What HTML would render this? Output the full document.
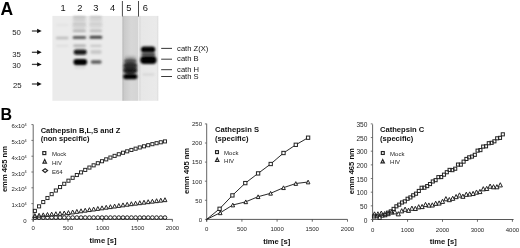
<!DOCTYPE html>
<html><head><meta charset="utf-8"><style>
html,body{margin:0;padding:0;background:#fff;}
body{width:520px;height:248px;overflow:hidden;}
svg{display:block;font-family:"Liberation Sans", sans-serif;}
</style></head><body>
<svg width="520" height="248" viewBox="0 0 520 248">
<defs>
<linearGradient id="g5" x1="0" y1="0" x2="1" y2="0">
<stop offset="0" stop-color="#b6b6b6"/><stop offset="0.12" stop-color="#cacaca"/><stop offset="0.55" stop-color="#d7d7d7"/><stop offset="1" stop-color="#d4d4d4"/>
</linearGradient>
<linearGradient id="g6" x1="0" y1="0" x2="1" y2="0">
<stop offset="0" stop-color="#d6d6d6"/><stop offset="0.12" stop-color="#e7e7e7"/><stop offset="0.9" stop-color="#eaeaea"/><stop offset="1" stop-color="#dcdcdc"/>
</linearGradient>
<filter id="b6" filterUnits="userSpaceOnUse" x="0" y="0" width="520" height="248"><feGaussianBlur stdDeviation="0.6"/></filter>
<filter id="b7" filterUnits="userSpaceOnUse" x="0" y="0" width="520" height="248"><feGaussianBlur stdDeviation="0.7"/></filter>
<filter id="b8" filterUnits="userSpaceOnUse" x="0" y="0" width="520" height="248"><feGaussianBlur stdDeviation="0.8"/></filter>
<filter id="b9" filterUnits="userSpaceOnUse" x="0" y="0" width="520" height="248"><feGaussianBlur stdDeviation="0.9"/></filter>
<filter id="b10" filterUnits="userSpaceOnUse" x="0" y="0" width="520" height="248"><feGaussianBlur stdDeviation="1.0"/></filter>
<filter id="b11" filterUnits="userSpaceOnUse" x="0" y="0" width="520" height="248"><feGaussianBlur stdDeviation="1.1"/></filter>
<filter id="b13" filterUnits="userSpaceOnUse" x="0" y="0" width="520" height="248"><feGaussianBlur stdDeviation="1.3"/></filter>
<filter id="b14" filterUnits="userSpaceOnUse" x="0" y="0" width="520" height="248"><feGaussianBlur stdDeviation="1.4"/></filter>
<filter id="b15" filterUnits="userSpaceOnUse" x="0" y="0" width="520" height="248"><feGaussianBlur stdDeviation="1.5"/></filter>
<filter id="b16" filterUnits="userSpaceOnUse" x="0" y="0" width="520" height="248"><feGaussianBlur stdDeviation="1.6"/></filter>
<filter id="b12" filterUnits="userSpaceOnUse" x="0" y="0" width="520" height="248"><feGaussianBlur stdDeviation="1.2"/></filter>
<filter id="b20" filterUnits="userSpaceOnUse" x="0" y="0" width="520" height="248"><feGaussianBlur stdDeviation="2.0"/></filter>
<filter id="gb" filterUnits="userSpaceOnUse" x="0" y="0" width="520" height="248"><feGaussianBlur stdDeviation="0.35"/></filter>
</defs>
<rect width="520" height="248" fill="#fff"/>
<g filter="url(#gb)">
<text x="0.5" y="14.6" font-size="17.5" font-weight="bold">A</text>
<text x="63.2" y="11.1" font-size="9.3" text-anchor="middle" fill="#111">1</text>
<text x="79.8" y="11.1" font-size="9.3" text-anchor="middle" fill="#111">2</text>
<text x="95.9" y="11.1" font-size="9.3" text-anchor="middle" fill="#111">3</text>
<text x="112.5" y="11.1" font-size="9.3" text-anchor="middle" fill="#111">4</text>
<text x="128.8" y="11.1" font-size="9.3" text-anchor="middle" fill="#111">5</text>
<text x="145.3" y="11.1" font-size="9.3" text-anchor="middle" fill="#111">6</text>
<line x1="122.4" y1="1" x2="122.4" y2="17" stroke="#333" stroke-width="0.9"/>
<line x1="138.5" y1="1" x2="138.5" y2="17" stroke="#333" stroke-width="0.9"/>
<text x="20.9" y="35.4" font-size="7.8" text-anchor="end" fill="#1a1a1a">50</text>
<text x="20.9" y="56.699999999999996" font-size="7.8" text-anchor="end" fill="#1a1a1a">35</text>
<text x="20.9" y="67.8" font-size="7.8" text-anchor="end" fill="#1a1a1a">30</text>
<text x="21.7" y="87.6" font-size="7.8" text-anchor="end" fill="#1a1a1a">25</text>
<line x1="31.9" y1="31" x2="38" y2="31" stroke="#444" stroke-width="1.3"/>
<path d="M37.1 28.8 L41.7 31 L37.1 33.2 Z" fill="#111"/>
<line x1="31.9" y1="52.3" x2="38" y2="52.3" stroke="#444" stroke-width="1.3"/>
<path d="M37.1 50.099999999999994 L41.7 52.3 L37.1 54.5 Z" fill="#111"/>
<line x1="31.9" y1="64.4" x2="38" y2="64.4" stroke="#444" stroke-width="1.3"/>
<path d="M37.1 62.2 L41.7 64.4 L37.1 66.60000000000001 Z" fill="#111"/>
<line x1="31.9" y1="84" x2="38" y2="84" stroke="#444" stroke-width="1.3"/>
<path d="M37.1 81.8 L41.7 84 L37.1 86.2 Z" fill="#111"/>
<rect x="52.4" y="15.9" width="69.6" height="84.9" fill="#ebebeb"/>
<rect x="122.3" y="15.9" width="16.2" height="84.9" fill="url(#g5)"/>
<rect x="139.2" y="15.9" width="19.1" height="84.9" fill="url(#g6)"/>
<rect x="55.8" y="36.8" width="12.8" height="2.4" rx="1.2" fill="#bcbcbc" filter="url(#b9)"/>
<rect x="56.0" y="45.0" width="12.5" height="1.6" rx="0.8" fill="#dadada" filter="url(#b10)"/>
<rect x="56.0" y="24.3" width="12.5" height="1.4" rx="0.7" fill="#e0e0e0" filter="url(#b10)"/>
<rect x="72.7" y="17.0" width="13.4" height="15.0" rx="6.7" fill="#dedede" filter="url(#b16)"/>
<rect x="72.8" y="16.2" width="13.0" height="2.0" rx="1.0" fill="#b8b8b8" filter="url(#b8)"/>
<rect x="72.8" y="19.2" width="13.0" height="1.6" rx="0.8" fill="#c4c4c4" filter="url(#b8)"/>
<rect x="72.8" y="23.1" width="13.0" height="1.6" rx="0.8" fill="#c0c0c0" filter="url(#b8)"/>
<rect x="72.8" y="25.1" width="13.0" height="1.4" rx="0.7" fill="#c8c8c8" filter="url(#b8)"/>
<rect x="72.8" y="27.4" width="13.0" height="1.2" rx="0.6" fill="#d0d0d0" filter="url(#b8)"/>
<rect x="72.7" y="29.7" width="13.2" height="2.4" rx="1.2" fill="#b0b0b0" filter="url(#b9)"/>
<rect x="72.6" y="36.1" width="13.6" height="3.0" rx="1.5" fill="#5c5c5c" filter="url(#b9)"/>
<rect x="73.2" y="44.6" width="12.8" height="2.4" rx="1.2" fill="#b0b0b0" filter="url(#b10)"/>
<rect x="73.7" y="49.5" width="13.0" height="5.2" rx="2.6" fill="#121212" filter="url(#b10)"/>
<rect x="73.4" y="59.0" width="13.8" height="6.2" rx="3.1" fill="#000000" filter="url(#b10)"/>
<rect x="74.5" y="66.8" width="11.0" height="1.5" rx="0.8" fill="#d0d0d0" filter="url(#b10)"/>
<rect x="89.4" y="17.0" width="12.8" height="15.0" rx="6.4" fill="#e0e0e0" filter="url(#b16)"/>
<rect x="89.6" y="16.2" width="12.4" height="2.0" rx="1.0" fill="#c0c0c0" filter="url(#b8)"/>
<rect x="89.6" y="19.2" width="12.4" height="1.6" rx="0.8" fill="#cacaca" filter="url(#b8)"/>
<rect x="89.6" y="23.1" width="12.4" height="1.6" rx="0.8" fill="#c8c8c8" filter="url(#b8)"/>
<rect x="89.6" y="25.1" width="12.4" height="1.4" rx="0.7" fill="#d0d0d0" filter="url(#b8)"/>
<rect x="89.6" y="29.7" width="12.4" height="2.4" rx="1.2" fill="#bababa" filter="url(#b9)"/>
<rect x="89.5" y="35.7" width="12.8" height="3.0" rx="1.5" fill="#404040" filter="url(#b9)"/>
<rect x="90.2" y="44.7" width="11.5" height="2.2" rx="1.1" fill="#c6c6c6" filter="url(#b10)"/>
<rect x="90.3" y="50.1" width="11.5" height="4.0" rx="2.0" fill="#c8c8c8" filter="url(#b12)"/>
<rect x="90.7" y="60.3" width="11.0" height="3.4" rx="1.7" fill="#5c5c5c" filter="url(#b9)"/>
<rect x="124.6" y="56.6" width="11.5" height="3.6" rx="1.8" fill="#a0a0a0" filter="url(#b16)"/>
<rect x="123.9" y="59.8" width="12.8" height="15.6" rx="6.4" fill="#363636" filter="url(#b14)"/>
<rect x="124.1" y="59.5" width="12.4" height="3.0" rx="1.5" fill="#4a4a4a" filter="url(#b12)"/>
<rect x="124.0" y="63.9" width="12.6" height="3.0" rx="1.5" fill="#2a2a2a" filter="url(#b12)"/>
<rect x="123.8" y="68.4" width="13.0" height="4.0" rx="2.0" fill="#121212" filter="url(#b12)"/>
<rect x="123.2" y="74.0" width="14.2" height="5.2" rx="2.6" fill="#000000" filter="url(#b11)"/>
<rect x="141.3" y="52.6" width="14.0" height="4.0" rx="2.0" fill="#505050" filter="url(#b10)"/>
<rect x="140.9" y="46.4" width="14.4" height="6.2" rx="3.1" fill="#000000" filter="url(#b10)"/>
<rect x="140.2" y="56.1" width="16.4" height="7.8" rx="3.9" fill="#000000" filter="url(#b10)"/>
<rect x="142.4" y="73.8" width="12.0" height="1.5" rx="0.8" fill="#cecece" filter="url(#b9)"/>
<line x1="161.2" y1="48.4" x2="172.0" y2="48.4" stroke="#222" stroke-width="0.9"/>
<text x="177.1" y="50.7" font-size="7.6" fill="#151515">cath Z(X)</text>
<line x1="161.2" y1="59.2" x2="172.0" y2="59.2" stroke="#222" stroke-width="0.9"/>
<text x="177.1" y="61.0" font-size="7.6" fill="#151515">cath B</text>
<line x1="161.2" y1="69.7" x2="172.0" y2="69.7" stroke="#222" stroke-width="0.9"/>
<text x="177.1" y="71.8" font-size="7.6" fill="#151515">cath H</text>
<line x1="161.2" y1="76.5" x2="172.0" y2="76.5" stroke="#222" stroke-width="0.9"/>
<text x="177.1" y="79.0" font-size="7.6" fill="#151515">cath S</text>
<text x="0.6" y="119.8" font-size="16" font-weight="bold">B</text>
<line x1="33.2" y1="124.6" x2="33.2" y2="221.6" stroke="#555" stroke-width="0.9"/>
<line x1="33.2" y1="219.4" x2="172.6" y2="219.4" stroke="#444" stroke-width="0.9"/>
<line x1="31.400000000000002" y1="219.40" x2="33.2" y2="219.40" stroke="#555" stroke-width="0.8"/>
<text x="26.7" y="222.90" font-size="6.0" fill="#262626" text-anchor="end">0</text>
<line x1="31.400000000000002" y1="203.60" x2="33.2" y2="203.60" stroke="#555" stroke-width="0.8"/>
<text x="26.7" y="207.10" font-size="6.0" fill="#262626" text-anchor="end">1x10<tspan dy="-2.2" font-size="3.8">4</tspan></text>
<line x1="31.400000000000002" y1="187.80" x2="33.2" y2="187.80" stroke="#555" stroke-width="0.8"/>
<text x="26.7" y="191.30" font-size="6.0" fill="#262626" text-anchor="end">2x10<tspan dy="-2.2" font-size="3.8">4</tspan></text>
<line x1="31.400000000000002" y1="172.00" x2="33.2" y2="172.00" stroke="#555" stroke-width="0.8"/>
<text x="26.7" y="175.50" font-size="6.0" fill="#262626" text-anchor="end">3x10<tspan dy="-2.2" font-size="3.8">4</tspan></text>
<line x1="31.400000000000002" y1="156.20" x2="33.2" y2="156.20" stroke="#555" stroke-width="0.8"/>
<text x="26.7" y="159.70" font-size="6.0" fill="#262626" text-anchor="end">4x10<tspan dy="-2.2" font-size="3.8">4</tspan></text>
<line x1="31.400000000000002" y1="140.40" x2="33.2" y2="140.40" stroke="#555" stroke-width="0.8"/>
<text x="26.7" y="143.90" font-size="6.0" fill="#262626" text-anchor="end">5x10<tspan dy="-2.2" font-size="3.8">4</tspan></text>
<line x1="31.400000000000002" y1="124.60" x2="33.2" y2="124.60" stroke="#555" stroke-width="0.8"/>
<text x="26.7" y="128.10" font-size="6.0" fill="#262626" text-anchor="end">6x10<tspan dy="-2.2" font-size="3.8">4</tspan></text>
<line x1="33.20" y1="219.4" x2="33.20" y2="221.70000000000002" stroke="#444" stroke-width="0.8"/>
<text x="33.20" y="230.10" font-size="6.0" fill="#262626" text-anchor="middle">0</text>
<line x1="68.00" y1="219.4" x2="68.00" y2="221.70000000000002" stroke="#444" stroke-width="0.8"/>
<text x="68.00" y="230.10" font-size="6.0" fill="#262626" text-anchor="middle">500</text>
<line x1="102.80" y1="219.4" x2="102.80" y2="221.70000000000002" stroke="#444" stroke-width="0.8"/>
<text x="102.80" y="230.10" font-size="6.0" fill="#262626" text-anchor="middle">1000</text>
<line x1="137.60" y1="219.4" x2="137.60" y2="221.70000000000002" stroke="#444" stroke-width="0.8"/>
<text x="137.60" y="230.10" font-size="6.0" fill="#262626" text-anchor="middle">1500</text>
<line x1="172.40" y1="219.4" x2="172.40" y2="221.70000000000002" stroke="#444" stroke-width="0.8"/>
<text x="172.40" y="230.10" font-size="6.0" fill="#262626" text-anchor="middle">2000</text>
<text x="103" y="243.3" font-size="7.6" font-weight="bold" text-anchor="middle" fill="#111">time [s]</text>
<text transform="translate(7.0 169.1) rotate(-90)" font-size="7.6" font-weight="bold" text-anchor="middle" fill="#111">emm 465 nm</text>
<text x="40.7" y="132.6" font-size="7.5" font-weight="bold" fill="#111">Cathepsin B,L,S and Z</text>
<text x="40.7" y="141.3" font-size="7.5" font-weight="bold" fill="#111">(non specific)</text>
<rect x="42.80" y="151.60" width="3.0" height="3.0" fill="none" stroke="#222" stroke-width="1.15"/>
<text x="52.0" y="155.7" font-size="6.0" fill="#262626">Mock</text>
<path d="M44.70 159.55 L46.45 163.05 L42.95 163.05 Z" fill="none" stroke="#222" stroke-width="1.15" stroke-linejoin="miter"/>
<text x="52.0" y="164.9" font-size="6.0" fill="#262626">HIV</text>
<path d="M45.10 168.70 L47.60 170.60 L45.10 172.50 L42.60 170.60 Z" fill="none" stroke="#222" stroke-width="1.15"/>
<text x="52.0" y="174.0" font-size="6.0" fill="#262626">E64</text>
<circle cx="34.87" cy="217.60" r="1.85" fill="none" stroke="#222" stroke-width="1.0"/>
<circle cx="39.07" cy="217.60" r="1.85" fill="none" stroke="#222" stroke-width="1.0"/>
<circle cx="43.26" cy="217.60" r="1.85" fill="none" stroke="#222" stroke-width="1.0"/>
<circle cx="47.46" cy="217.60" r="1.85" fill="none" stroke="#222" stroke-width="1.0"/>
<circle cx="51.66" cy="217.60" r="1.85" fill="none" stroke="#222" stroke-width="1.0"/>
<circle cx="55.85" cy="217.60" r="1.85" fill="none" stroke="#222" stroke-width="1.0"/>
<circle cx="60.05" cy="217.60" r="1.85" fill="none" stroke="#222" stroke-width="1.0"/>
<circle cx="64.25" cy="217.60" r="1.85" fill="none" stroke="#222" stroke-width="1.0"/>
<circle cx="68.45" cy="217.60" r="1.85" fill="none" stroke="#222" stroke-width="1.0"/>
<circle cx="72.64" cy="217.60" r="1.85" fill="none" stroke="#222" stroke-width="1.0"/>
<circle cx="76.84" cy="217.60" r="1.85" fill="none" stroke="#222" stroke-width="1.0"/>
<circle cx="81.04" cy="217.60" r="1.85" fill="none" stroke="#222" stroke-width="1.0"/>
<circle cx="85.23" cy="217.60" r="1.85" fill="none" stroke="#222" stroke-width="1.0"/>
<circle cx="89.43" cy="217.60" r="1.85" fill="none" stroke="#222" stroke-width="1.0"/>
<circle cx="93.63" cy="217.60" r="1.85" fill="none" stroke="#222" stroke-width="1.0"/>
<circle cx="97.82" cy="217.60" r="1.85" fill="none" stroke="#222" stroke-width="1.0"/>
<circle cx="102.02" cy="217.60" r="1.85" fill="none" stroke="#222" stroke-width="1.0"/>
<circle cx="106.22" cy="217.60" r="1.85" fill="none" stroke="#222" stroke-width="1.0"/>
<circle cx="110.41" cy="217.60" r="1.85" fill="none" stroke="#222" stroke-width="1.0"/>
<circle cx="114.61" cy="217.60" r="1.85" fill="none" stroke="#222" stroke-width="1.0"/>
<circle cx="118.81" cy="217.60" r="1.85" fill="none" stroke="#222" stroke-width="1.0"/>
<circle cx="123.00" cy="217.60" r="1.85" fill="none" stroke="#222" stroke-width="1.0"/>
<circle cx="127.20" cy="217.60" r="1.85" fill="none" stroke="#222" stroke-width="1.0"/>
<circle cx="131.40" cy="217.60" r="1.85" fill="none" stroke="#222" stroke-width="1.0"/>
<circle cx="135.60" cy="217.60" r="1.85" fill="none" stroke="#222" stroke-width="1.0"/>
<circle cx="139.79" cy="217.60" r="1.85" fill="none" stroke="#222" stroke-width="1.0"/>
<circle cx="143.99" cy="217.60" r="1.85" fill="none" stroke="#222" stroke-width="1.0"/>
<circle cx="148.19" cy="217.60" r="1.85" fill="none" stroke="#222" stroke-width="1.0"/>
<circle cx="152.38" cy="217.60" r="1.85" fill="none" stroke="#222" stroke-width="1.0"/>
<circle cx="156.58" cy="217.60" r="1.85" fill="none" stroke="#222" stroke-width="1.0"/>
<circle cx="160.78" cy="217.60" r="1.85" fill="none" stroke="#222" stroke-width="1.0"/>
<circle cx="164.97" cy="217.60" r="1.85" fill="none" stroke="#222" stroke-width="1.0"/>
<path d="M34.87 213.55 L36.82 217.45 L32.92 217.45 Z" fill="none" stroke="#222" stroke-width="1.0" stroke-linejoin="miter"/>
<path d="M39.07 213.25 L41.02 217.15 L37.12 217.15 Z" fill="none" stroke="#222" stroke-width="1.0" stroke-linejoin="miter"/>
<path d="M43.26 212.87 L45.21 216.77 L41.31 216.77 Z" fill="none" stroke="#222" stroke-width="1.0" stroke-linejoin="miter"/>
<path d="M47.46 212.50 L49.41 216.40 L45.51 216.40 Z" fill="none" stroke="#222" stroke-width="1.0" stroke-linejoin="miter"/>
<path d="M51.66 212.13 L53.61 216.03 L49.71 216.03 Z" fill="none" stroke="#222" stroke-width="1.0" stroke-linejoin="miter"/>
<path d="M55.85 211.75 L57.80 215.65 L53.90 215.65 Z" fill="none" stroke="#222" stroke-width="1.0" stroke-linejoin="miter"/>
<path d="M60.05 211.38 L62.00 215.28 L58.10 215.28 Z" fill="none" stroke="#222" stroke-width="1.0" stroke-linejoin="miter"/>
<path d="M64.25 211.01 L66.20 214.91 L62.30 214.91 Z" fill="none" stroke="#222" stroke-width="1.0" stroke-linejoin="miter"/>
<path d="M68.45 210.62 L70.40 214.52 L66.50 214.52 Z" fill="none" stroke="#222" stroke-width="1.0" stroke-linejoin="miter"/>
<path d="M72.64 210.03 L74.59 213.93 L70.69 213.93 Z" fill="none" stroke="#222" stroke-width="1.0" stroke-linejoin="miter"/>
<path d="M76.84 209.44 L78.79 213.34 L74.89 213.34 Z" fill="none" stroke="#222" stroke-width="1.0" stroke-linejoin="miter"/>
<path d="M81.04 208.85 L82.99 212.75 L79.09 212.75 Z" fill="none" stroke="#222" stroke-width="1.0" stroke-linejoin="miter"/>
<path d="M85.23 208.25 L87.18 212.15 L83.28 212.15 Z" fill="none" stroke="#222" stroke-width="1.0" stroke-linejoin="miter"/>
<path d="M89.43 207.66 L91.38 211.56 L87.48 211.56 Z" fill="none" stroke="#222" stroke-width="1.0" stroke-linejoin="miter"/>
<path d="M93.63 207.07 L95.58 210.97 L91.68 210.97 Z" fill="none" stroke="#222" stroke-width="1.0" stroke-linejoin="miter"/>
<path d="M97.82 206.48 L99.77 210.38 L95.87 210.38 Z" fill="none" stroke="#222" stroke-width="1.0" stroke-linejoin="miter"/>
<path d="M102.02 205.89 L103.97 209.79 L100.07 209.79 Z" fill="none" stroke="#222" stroke-width="1.0" stroke-linejoin="miter"/>
<path d="M106.22 205.29 L108.17 209.19 L104.27 209.19 Z" fill="none" stroke="#222" stroke-width="1.0" stroke-linejoin="miter"/>
<path d="M110.41 204.70 L112.36 208.60 L108.46 208.60 Z" fill="none" stroke="#222" stroke-width="1.0" stroke-linejoin="miter"/>
<path d="M114.61 204.11 L116.56 208.01 L112.66 208.01 Z" fill="none" stroke="#222" stroke-width="1.0" stroke-linejoin="miter"/>
<path d="M118.81 203.52 L120.76 207.42 L116.86 207.42 Z" fill="none" stroke="#222" stroke-width="1.0" stroke-linejoin="miter"/>
<path d="M123.00 202.92 L124.95 206.82 L121.05 206.82 Z" fill="none" stroke="#222" stroke-width="1.0" stroke-linejoin="miter"/>
<path d="M127.20 202.33 L129.15 206.23 L125.25 206.23 Z" fill="none" stroke="#222" stroke-width="1.0" stroke-linejoin="miter"/>
<path d="M131.40 201.75 L133.35 205.65 L129.45 205.65 Z" fill="none" stroke="#222" stroke-width="1.0" stroke-linejoin="miter"/>
<path d="M135.60 201.25 L137.55 205.15 L133.65 205.15 Z" fill="none" stroke="#222" stroke-width="1.0" stroke-linejoin="miter"/>
<path d="M139.79 200.75 L141.74 204.65 L137.84 204.65 Z" fill="none" stroke="#222" stroke-width="1.0" stroke-linejoin="miter"/>
<path d="M143.99 200.24 L145.94 204.14 L142.04 204.14 Z" fill="none" stroke="#222" stroke-width="1.0" stroke-linejoin="miter"/>
<path d="M148.19 199.74 L150.14 203.64 L146.24 203.64 Z" fill="none" stroke="#222" stroke-width="1.0" stroke-linejoin="miter"/>
<path d="M152.38 199.24 L154.33 203.14 L150.43 203.14 Z" fill="none" stroke="#222" stroke-width="1.0" stroke-linejoin="miter"/>
<path d="M156.58 198.74 L158.53 202.64 L154.63 202.64 Z" fill="none" stroke="#222" stroke-width="1.0" stroke-linejoin="miter"/>
<path d="M160.78 198.23 L162.73 202.13 L158.83 202.13 Z" fill="none" stroke="#222" stroke-width="1.0" stroke-linejoin="miter"/>
<path d="M164.97 197.73 L166.92 201.63 L163.02 201.63 Z" fill="none" stroke="#222" stroke-width="1.0" stroke-linejoin="miter"/>
<rect x="33.32" y="209.34" width="3.1" height="3.1" fill="none" stroke="#222" stroke-width="0.95"/>
<rect x="37.52" y="204.80" width="3.1" height="3.1" fill="none" stroke="#222" stroke-width="0.95"/>
<rect x="41.71" y="200.51" width="3.1" height="3.1" fill="none" stroke="#222" stroke-width="0.95"/>
<rect x="45.91" y="196.45" width="3.1" height="3.1" fill="none" stroke="#222" stroke-width="0.95"/>
<rect x="50.11" y="192.60" width="3.1" height="3.1" fill="none" stroke="#222" stroke-width="0.95"/>
<rect x="54.30" y="188.96" width="3.1" height="3.1" fill="none" stroke="#222" stroke-width="0.95"/>
<rect x="58.50" y="185.51" width="3.1" height="3.1" fill="none" stroke="#222" stroke-width="0.95"/>
<rect x="62.70" y="182.24" width="3.1" height="3.1" fill="none" stroke="#222" stroke-width="0.95"/>
<rect x="66.90" y="179.15" width="3.1" height="3.1" fill="none" stroke="#222" stroke-width="0.95"/>
<rect x="71.09" y="176.23" width="3.1" height="3.1" fill="none" stroke="#222" stroke-width="0.95"/>
<rect x="75.29" y="173.46" width="3.1" height="3.1" fill="none" stroke="#222" stroke-width="0.95"/>
<rect x="79.49" y="170.84" width="3.1" height="3.1" fill="none" stroke="#222" stroke-width="0.95"/>
<rect x="83.68" y="168.36" width="3.1" height="3.1" fill="none" stroke="#222" stroke-width="0.95"/>
<rect x="87.88" y="166.01" width="3.1" height="3.1" fill="none" stroke="#222" stroke-width="0.95"/>
<rect x="92.08" y="163.78" width="3.1" height="3.1" fill="none" stroke="#222" stroke-width="0.95"/>
<rect x="96.27" y="161.68" width="3.1" height="3.1" fill="none" stroke="#222" stroke-width="0.95"/>
<rect x="100.47" y="159.68" width="3.1" height="3.1" fill="none" stroke="#222" stroke-width="0.95"/>
<rect x="104.67" y="157.80" width="3.1" height="3.1" fill="none" stroke="#222" stroke-width="0.95"/>
<rect x="108.86" y="156.01" width="3.1" height="3.1" fill="none" stroke="#222" stroke-width="0.95"/>
<rect x="113.06" y="154.32" width="3.1" height="3.1" fill="none" stroke="#222" stroke-width="0.95"/>
<rect x="117.26" y="152.72" width="3.1" height="3.1" fill="none" stroke="#222" stroke-width="0.95"/>
<rect x="121.45" y="151.20" width="3.1" height="3.1" fill="none" stroke="#222" stroke-width="0.95"/>
<rect x="125.65" y="149.77" width="3.1" height="3.1" fill="none" stroke="#222" stroke-width="0.95"/>
<rect x="129.85" y="148.41" width="3.1" height="3.1" fill="none" stroke="#222" stroke-width="0.95"/>
<rect x="134.05" y="147.13" width="3.1" height="3.1" fill="none" stroke="#222" stroke-width="0.95"/>
<rect x="138.24" y="145.91" width="3.1" height="3.1" fill="none" stroke="#222" stroke-width="0.95"/>
<rect x="142.44" y="144.76" width="3.1" height="3.1" fill="none" stroke="#222" stroke-width="0.95"/>
<rect x="146.64" y="143.67" width="3.1" height="3.1" fill="none" stroke="#222" stroke-width="0.95"/>
<rect x="150.83" y="142.63" width="3.1" height="3.1" fill="none" stroke="#222" stroke-width="0.95"/>
<rect x="155.03" y="141.66" width="3.1" height="3.1" fill="none" stroke="#222" stroke-width="0.95"/>
<rect x="159.23" y="140.73" width="3.1" height="3.1" fill="none" stroke="#222" stroke-width="0.95"/>
<rect x="163.42" y="139.86" width="3.1" height="3.1" fill="none" stroke="#222" stroke-width="0.95"/>
<line x1="206.7" y1="123.7" x2="206.7" y2="221.6" stroke="#555" stroke-width="0.9"/>
<line x1="206.7" y1="219.4" x2="347.5" y2="219.4" stroke="#444" stroke-width="0.9"/>
<line x1="204.89999999999998" y1="219.40" x2="206.7" y2="219.40" stroke="#555" stroke-width="0.8"/>
<text x="202.0" y="221.70" font-size="6.0" fill="#262626" text-anchor="end">0</text>
<line x1="204.89999999999998" y1="200.30" x2="206.7" y2="200.30" stroke="#555" stroke-width="0.8"/>
<text x="202.0" y="202.60" font-size="6.0" fill="#262626" text-anchor="end">50</text>
<line x1="204.89999999999998" y1="181.20" x2="206.7" y2="181.20" stroke="#555" stroke-width="0.8"/>
<text x="202.0" y="183.50" font-size="6.0" fill="#262626" text-anchor="end">100</text>
<line x1="204.89999999999998" y1="162.10" x2="206.7" y2="162.10" stroke="#555" stroke-width="0.8"/>
<text x="202.0" y="164.40" font-size="6.0" fill="#262626" text-anchor="end">150</text>
<line x1="204.89999999999998" y1="143.00" x2="206.7" y2="143.00" stroke="#555" stroke-width="0.8"/>
<text x="202.0" y="145.30" font-size="6.0" fill="#262626" text-anchor="end">200</text>
<line x1="204.89999999999998" y1="123.90" x2="206.7" y2="123.90" stroke="#555" stroke-width="0.8"/>
<text x="202.0" y="126.20" font-size="6.0" fill="#262626" text-anchor="end">250</text>
<line x1="206.70" y1="219.4" x2="206.70" y2="221.70000000000002" stroke="#444" stroke-width="0.8"/>
<text x="206.70" y="230.70" font-size="6.0" fill="#262626" text-anchor="middle">0</text>
<line x1="241.90" y1="219.4" x2="241.90" y2="221.70000000000002" stroke="#444" stroke-width="0.8"/>
<text x="241.90" y="230.70" font-size="6.0" fill="#262626" text-anchor="middle">500</text>
<line x1="277.10" y1="219.4" x2="277.10" y2="221.70000000000002" stroke="#444" stroke-width="0.8"/>
<text x="277.10" y="230.70" font-size="6.0" fill="#262626" text-anchor="middle">1000</text>
<line x1="312.30" y1="219.4" x2="312.30" y2="221.70000000000002" stroke="#444" stroke-width="0.8"/>
<text x="312.30" y="230.70" font-size="6.0" fill="#262626" text-anchor="middle">1500</text>
<line x1="347.50" y1="219.4" x2="347.50" y2="221.70000000000002" stroke="#444" stroke-width="0.8"/>
<text x="347.50" y="230.70" font-size="6.0" fill="#262626" text-anchor="middle">2000</text>
<text x="276.7" y="243.6" font-size="7.6" font-weight="bold" text-anchor="middle" fill="#111">time [s]</text>
<text transform="translate(189.3 170.9) rotate(-90)" font-size="7.6" font-weight="bold" text-anchor="middle" fill="#111">emm 405 nm</text>
<text x="215.1" y="131.9" font-size="7.6" font-weight="bold" fill="#111">Cathepsin S</text>
<text x="215.1" y="141.0" font-size="7.6" font-weight="bold" fill="#111">(specific)</text>
<rect x="215.55" y="150.65" width="2.9" height="2.9" fill="none" stroke="#222" stroke-width="1.15"/>
<text x="224.1" y="154.5" font-size="6.0" fill="#262626">Mock</text>
<path d="M217.20 158.10 L218.90 161.50 L215.50 161.50 Z" fill="none" stroke="#222" stroke-width="1.15" stroke-linejoin="miter"/>
<text x="224.1" y="163.3" font-size="6.0" fill="#262626">HIV</text>
<polyline points="206.6,219.4 219.6,208.8 232.4,195.4 245.3,183.1 258.1,173.4 270.7,164.0 283.5,153.0 295.8,144.8 308.1,137.7" fill="none" stroke="#111" stroke-width="0.9"/>
<polyline points="206.6,219.4 220.2,212.8 232.8,205.0 245.8,201.8 258.1,196.7 270.6,193.3 283.5,187.7 295.8,183.5 308.1,182.0" fill="none" stroke="#111" stroke-width="0.9"/>
<rect x="217.95" y="207.15" width="3.3" height="3.3" fill="#fff" stroke="#222" stroke-width="1.0"/>
<rect x="230.75" y="193.75" width="3.3" height="3.3" fill="#fff" stroke="#222" stroke-width="1.0"/>
<rect x="243.65" y="181.45" width="3.3" height="3.3" fill="#fff" stroke="#222" stroke-width="1.0"/>
<rect x="256.45" y="171.75" width="3.3" height="3.3" fill="#fff" stroke="#222" stroke-width="1.0"/>
<rect x="269.05" y="162.35" width="3.3" height="3.3" fill="#fff" stroke="#222" stroke-width="1.0"/>
<rect x="281.85" y="151.35" width="3.3" height="3.3" fill="#fff" stroke="#222" stroke-width="1.0"/>
<rect x="294.15" y="143.15" width="3.3" height="3.3" fill="#fff" stroke="#222" stroke-width="1.0"/>
<rect x="306.45" y="136.05" width="3.3" height="3.3" fill="#fff" stroke="#222" stroke-width="1.0"/>
<path d="M220.20 210.95 L222.05 214.65 L218.35 214.65 Z" fill="#fff" stroke="#222" stroke-width="1.0" stroke-linejoin="miter"/>
<path d="M232.80 203.15 L234.65 206.85 L230.95 206.85 Z" fill="#fff" stroke="#222" stroke-width="1.0" stroke-linejoin="miter"/>
<path d="M245.80 199.95 L247.65 203.65 L243.95 203.65 Z" fill="#fff" stroke="#222" stroke-width="1.0" stroke-linejoin="miter"/>
<path d="M258.10 194.85 L259.95 198.55 L256.25 198.55 Z" fill="#fff" stroke="#222" stroke-width="1.0" stroke-linejoin="miter"/>
<path d="M270.60 191.45 L272.45 195.15 L268.75 195.15 Z" fill="#fff" stroke="#222" stroke-width="1.0" stroke-linejoin="miter"/>
<path d="M283.50 185.85 L285.35 189.55 L281.65 189.55 Z" fill="#fff" stroke="#222" stroke-width="1.0" stroke-linejoin="miter"/>
<path d="M295.80 181.65 L297.65 185.35 L293.95 185.35 Z" fill="#fff" stroke="#222" stroke-width="1.0" stroke-linejoin="miter"/>
<path d="M308.10 180.15 L309.95 183.85 L306.25 183.85 Z" fill="#fff" stroke="#222" stroke-width="1.0" stroke-linejoin="miter"/>
<line x1="372.6" y1="124.3" x2="372.6" y2="221.7" stroke="#555" stroke-width="0.9"/>
<line x1="372.6" y1="219.5" x2="513.6" y2="219.5" stroke="#444" stroke-width="0.9"/>
<line x1="370.8" y1="219.50" x2="372.6" y2="219.50" stroke="#555" stroke-width="0.8"/>
<text x="367.4" y="222.50" font-size="6.6" fill="#262626" text-anchor="end">0</text>
<line x1="370.8" y1="205.84" x2="372.6" y2="205.84" stroke="#555" stroke-width="0.8"/>
<text x="367.4" y="208.84" font-size="6.6" fill="#262626" text-anchor="end">50</text>
<line x1="370.8" y1="192.18" x2="372.6" y2="192.18" stroke="#555" stroke-width="0.8"/>
<text x="367.4" y="195.18" font-size="6.6" fill="#262626" text-anchor="end">100</text>
<line x1="370.8" y1="178.52" x2="372.6" y2="178.52" stroke="#555" stroke-width="0.8"/>
<text x="367.4" y="181.52" font-size="6.6" fill="#262626" text-anchor="end">150</text>
<line x1="370.8" y1="164.86" x2="372.6" y2="164.86" stroke="#555" stroke-width="0.8"/>
<text x="367.4" y="167.86" font-size="6.6" fill="#262626" text-anchor="end">200</text>
<line x1="370.8" y1="151.20" x2="372.6" y2="151.20" stroke="#555" stroke-width="0.8"/>
<text x="367.4" y="154.20" font-size="6.6" fill="#262626" text-anchor="end">300</text>
<line x1="370.8" y1="137.54" x2="372.6" y2="137.54" stroke="#555" stroke-width="0.8"/>
<text x="367.4" y="140.54" font-size="6.6" fill="#262626" text-anchor="end">250</text>
<line x1="370.8" y1="123.88" x2="372.6" y2="123.88" stroke="#555" stroke-width="0.8"/>
<text x="367.4" y="126.88" font-size="6.6" fill="#262626" text-anchor="end">350</text>
<line x1="372.60" y1="219.5" x2="372.60" y2="221.8" stroke="#444" stroke-width="0.8"/>
<text x="372.60" y="232.30" font-size="6.0" fill="#262626" text-anchor="middle">0</text>
<line x1="407.55" y1="219.5" x2="407.55" y2="221.8" stroke="#444" stroke-width="0.8"/>
<text x="407.55" y="232.30" font-size="6.0" fill="#262626" text-anchor="middle">1000</text>
<line x1="442.50" y1="219.5" x2="442.50" y2="221.8" stroke="#444" stroke-width="0.8"/>
<text x="442.50" y="232.30" font-size="6.0" fill="#262626" text-anchor="middle">2000</text>
<line x1="477.45" y1="219.5" x2="477.45" y2="221.8" stroke="#444" stroke-width="0.8"/>
<text x="477.45" y="232.30" font-size="6.0" fill="#262626" text-anchor="middle">3000</text>
<line x1="512.40" y1="219.5" x2="512.40" y2="221.8" stroke="#444" stroke-width="0.8"/>
<text x="512.40" y="232.30" font-size="6.0" fill="#262626" text-anchor="middle">4000</text>
<text x="443.2" y="243.8" font-size="7.6" font-weight="bold" text-anchor="middle" fill="#111">time [s]</text>
<text transform="translate(354.4 171.2) rotate(-90)" font-size="7.6" font-weight="bold" text-anchor="middle" fill="#111">emm 465 nm</text>
<text x="380" y="131.8" font-size="7.6" font-weight="bold" fill="#111">Cathepsin C</text>
<text x="380" y="141.3" font-size="7.6" font-weight="bold" fill="#111">(specific)</text>
<rect x="381.35" y="151.55" width="2.9" height="2.9" fill="none" stroke="#222" stroke-width="1.15"/>
<text x="390.1" y="155.5" font-size="6.0" fill="#262626">Mock</text>
<path d="M382.70 159.50 L384.40 162.90 L381.00 162.90 Z" fill="none" stroke="#222" stroke-width="1.15" stroke-linejoin="miter"/>
<text x="390.1" y="164.1" font-size="6.0" fill="#262626">HIV</text>
<path d="M374.50 211.84 L376.60 216.04 L372.40 216.04 Z" fill="none" stroke="#222" stroke-width="1.0" stroke-linejoin="miter"/>
<path d="M377.90 211.79 L380.00 215.99 L375.80 215.99 Z" fill="none" stroke="#222" stroke-width="1.0" stroke-linejoin="miter"/>
<path d="M381.30 211.00 L383.40 215.20 L379.20 215.20 Z" fill="none" stroke="#222" stroke-width="1.0" stroke-linejoin="miter"/>
<path d="M384.70 211.52 L386.80 215.72 L382.60 215.72 Z" fill="none" stroke="#222" stroke-width="1.0" stroke-linejoin="miter"/>
<path d="M388.10 211.49 L390.20 215.69 L386.00 215.69 Z" fill="none" stroke="#222" stroke-width="1.0" stroke-linejoin="miter"/>
<path d="M391.50 209.94 L393.60 214.14 L389.40 214.14 Z" fill="none" stroke="#222" stroke-width="1.0" stroke-linejoin="miter"/>
<path d="M394.90 209.72 L397.00 213.92 L392.80 213.92 Z" fill="none" stroke="#222" stroke-width="1.0" stroke-linejoin="miter"/>
<path d="M398.30 211.65 L400.40 215.85 L396.20 215.85 Z" fill="none" stroke="#222" stroke-width="1.0" stroke-linejoin="miter"/>
<path d="M401.70 208.66 L403.80 212.86 L399.60 212.86 Z" fill="none" stroke="#222" stroke-width="1.0" stroke-linejoin="miter"/>
<path d="M405.10 207.10 L407.20 211.30 L403.00 211.30 Z" fill="none" stroke="#222" stroke-width="1.0" stroke-linejoin="miter"/>
<path d="M408.50 208.16 L410.60 212.36 L406.40 212.36 Z" fill="none" stroke="#222" stroke-width="1.0" stroke-linejoin="miter"/>
<path d="M411.90 206.09 L414.00 210.29 L409.80 210.29 Z" fill="none" stroke="#222" stroke-width="1.0" stroke-linejoin="miter"/>
<path d="M415.30 206.32 L417.40 210.52 L413.20 210.52 Z" fill="none" stroke="#222" stroke-width="1.0" stroke-linejoin="miter"/>
<path d="M418.70 204.67 L420.80 208.87 L416.60 208.87 Z" fill="none" stroke="#222" stroke-width="1.0" stroke-linejoin="miter"/>
<path d="M422.10 204.38 L424.20 208.58 L420.00 208.58 Z" fill="none" stroke="#222" stroke-width="1.0" stroke-linejoin="miter"/>
<path d="M425.50 202.40 L427.60 206.60 L423.40 206.60 Z" fill="none" stroke="#222" stroke-width="1.0" stroke-linejoin="miter"/>
<path d="M428.90 202.93 L431.00 207.13 L426.80 207.13 Z" fill="none" stroke="#222" stroke-width="1.0" stroke-linejoin="miter"/>
<path d="M432.30 202.80 L434.40 207.00 L430.20 207.00 Z" fill="none" stroke="#222" stroke-width="1.0" stroke-linejoin="miter"/>
<path d="M435.70 201.17 L437.80 205.37 L433.60 205.37 Z" fill="none" stroke="#222" stroke-width="1.0" stroke-linejoin="miter"/>
<path d="M439.10 200.87 L441.20 205.07 L437.00 205.07 Z" fill="none" stroke="#222" stroke-width="1.0" stroke-linejoin="miter"/>
<path d="M442.50 199.23 L444.60 203.43 L440.40 203.43 Z" fill="none" stroke="#222" stroke-width="1.0" stroke-linejoin="miter"/>
<path d="M445.90 196.59 L448.00 200.79 L443.80 200.79 Z" fill="none" stroke="#222" stroke-width="1.0" stroke-linejoin="miter"/>
<path d="M449.30 197.49 L451.40 201.69 L447.20 201.69 Z" fill="none" stroke="#222" stroke-width="1.0" stroke-linejoin="miter"/>
<path d="M452.70 196.14 L454.80 200.34 L450.60 200.34 Z" fill="none" stroke="#222" stroke-width="1.0" stroke-linejoin="miter"/>
<path d="M456.10 194.47 L458.20 198.67 L454.00 198.67 Z" fill="none" stroke="#222" stroke-width="1.0" stroke-linejoin="miter"/>
<path d="M459.50 192.85 L461.60 197.05 L457.40 197.05 Z" fill="none" stroke="#222" stroke-width="1.0" stroke-linejoin="miter"/>
<path d="M462.90 194.10 L465.00 198.30 L460.80 198.30 Z" fill="none" stroke="#222" stroke-width="1.0" stroke-linejoin="miter"/>
<path d="M466.30 192.15 L468.40 196.35 L464.20 196.35 Z" fill="none" stroke="#222" stroke-width="1.0" stroke-linejoin="miter"/>
<path d="M469.70 191.86 L471.80 196.06 L467.60 196.06 Z" fill="none" stroke="#222" stroke-width="1.0" stroke-linejoin="miter"/>
<path d="M473.10 191.34 L475.20 195.54 L471.00 195.54 Z" fill="none" stroke="#222" stroke-width="1.0" stroke-linejoin="miter"/>
<path d="M476.50 189.98 L478.60 194.18 L474.40 194.18 Z" fill="none" stroke="#222" stroke-width="1.0" stroke-linejoin="miter"/>
<path d="M479.90 189.39 L482.00 193.59 L477.80 193.59 Z" fill="none" stroke="#222" stroke-width="1.0" stroke-linejoin="miter"/>
<path d="M483.30 186.65 L485.40 190.85 L481.20 190.85 Z" fill="none" stroke="#222" stroke-width="1.0" stroke-linejoin="miter"/>
<path d="M486.70 186.33 L488.80 190.53 L484.60 190.53 Z" fill="none" stroke="#222" stroke-width="1.0" stroke-linejoin="miter"/>
<path d="M490.10 184.02 L492.20 188.22 L488.00 188.22 Z" fill="none" stroke="#222" stroke-width="1.0" stroke-linejoin="miter"/>
<path d="M493.50 184.60 L495.60 188.80 L491.40 188.80 Z" fill="none" stroke="#222" stroke-width="1.0" stroke-linejoin="miter"/>
<path d="M496.90 184.61 L499.00 188.81 L494.80 188.81 Z" fill="none" stroke="#222" stroke-width="1.0" stroke-linejoin="miter"/>
<path d="M500.30 182.73 L502.40 186.93 L498.20 186.93 Z" fill="none" stroke="#222" stroke-width="1.0" stroke-linejoin="miter"/>
<rect x="372.45" y="214.86" width="3.1" height="3.1" fill="none" stroke="#222" stroke-width="1.0"/>
<rect x="375.25" y="214.67" width="3.1" height="3.1" fill="none" stroke="#222" stroke-width="1.0"/>
<rect x="378.05" y="216.22" width="3.1" height="3.1" fill="none" stroke="#222" stroke-width="1.0"/>
<rect x="380.85" y="214.04" width="3.1" height="3.1" fill="none" stroke="#222" stroke-width="1.0"/>
<rect x="383.65" y="213.67" width="3.1" height="3.1" fill="none" stroke="#222" stroke-width="1.0"/>
<rect x="386.45" y="211.12" width="3.1" height="3.1" fill="none" stroke="#222" stroke-width="1.0"/>
<rect x="389.25" y="209.84" width="3.1" height="3.1" fill="none" stroke="#222" stroke-width="1.0"/>
<rect x="392.05" y="207.35" width="3.1" height="3.1" fill="none" stroke="#222" stroke-width="1.0"/>
<rect x="394.85" y="204.79" width="3.1" height="3.1" fill="none" stroke="#222" stroke-width="1.0"/>
<rect x="397.65" y="203.11" width="3.1" height="3.1" fill="none" stroke="#222" stroke-width="1.0"/>
<rect x="400.45" y="200.95" width="3.1" height="3.1" fill="none" stroke="#222" stroke-width="1.0"/>
<rect x="403.25" y="199.79" width="3.1" height="3.1" fill="none" stroke="#222" stroke-width="1.0"/>
<rect x="406.05" y="197.21" width="3.1" height="3.1" fill="none" stroke="#222" stroke-width="1.0"/>
<rect x="408.85" y="195.88" width="3.1" height="3.1" fill="none" stroke="#222" stroke-width="1.0"/>
<rect x="411.65" y="193.74" width="3.1" height="3.1" fill="none" stroke="#222" stroke-width="1.0"/>
<rect x="414.45" y="192.14" width="3.1" height="3.1" fill="none" stroke="#222" stroke-width="1.0"/>
<rect x="417.25" y="189.42" width="3.1" height="3.1" fill="none" stroke="#222" stroke-width="1.0"/>
<rect x="420.05" y="186.22" width="3.1" height="3.1" fill="none" stroke="#222" stroke-width="1.0"/>
<rect x="422.85" y="186.15" width="3.1" height="3.1" fill="none" stroke="#222" stroke-width="1.0"/>
<rect x="425.65" y="184.54" width="3.1" height="3.1" fill="none" stroke="#222" stroke-width="1.0"/>
<rect x="428.45" y="182.50" width="3.1" height="3.1" fill="none" stroke="#222" stroke-width="1.0"/>
<rect x="431.25" y="179.93" width="3.1" height="3.1" fill="none" stroke="#222" stroke-width="1.0"/>
<rect x="434.05" y="178.60" width="3.1" height="3.1" fill="none" stroke="#222" stroke-width="1.0"/>
<rect x="436.85" y="175.59" width="3.1" height="3.1" fill="none" stroke="#222" stroke-width="1.0"/>
<rect x="439.65" y="175.50" width="3.1" height="3.1" fill="none" stroke="#222" stroke-width="1.0"/>
<rect x="442.45" y="173.13" width="3.1" height="3.1" fill="none" stroke="#222" stroke-width="1.0"/>
<rect x="445.25" y="170.68" width="3.1" height="3.1" fill="none" stroke="#222" stroke-width="1.0"/>
<rect x="448.05" y="168.34" width="3.1" height="3.1" fill="none" stroke="#222" stroke-width="1.0"/>
<rect x="450.85" y="168.60" width="3.1" height="3.1" fill="none" stroke="#222" stroke-width="1.0"/>
<rect x="453.65" y="167.17" width="3.1" height="3.1" fill="none" stroke="#222" stroke-width="1.0"/>
<rect x="456.45" y="163.03" width="3.1" height="3.1" fill="none" stroke="#222" stroke-width="1.0"/>
<rect x="459.25" y="163.10" width="3.1" height="3.1" fill="none" stroke="#222" stroke-width="1.0"/>
<rect x="462.05" y="160.09" width="3.1" height="3.1" fill="none" stroke="#222" stroke-width="1.0"/>
<rect x="464.85" y="157.41" width="3.1" height="3.1" fill="none" stroke="#222" stroke-width="1.0"/>
<rect x="467.65" y="155.79" width="3.1" height="3.1" fill="none" stroke="#222" stroke-width="1.0"/>
<rect x="470.45" y="155.02" width="3.1" height="3.1" fill="none" stroke="#222" stroke-width="1.0"/>
<rect x="473.25" y="153.28" width="3.1" height="3.1" fill="none" stroke="#222" stroke-width="1.0"/>
<rect x="476.05" y="149.09" width="3.1" height="3.1" fill="none" stroke="#222" stroke-width="1.0"/>
<rect x="478.85" y="148.54" width="3.1" height="3.1" fill="none" stroke="#222" stroke-width="1.0"/>
<rect x="481.65" y="145.02" width="3.1" height="3.1" fill="none" stroke="#222" stroke-width="1.0"/>
<rect x="484.45" y="144.73" width="3.1" height="3.1" fill="none" stroke="#222" stroke-width="1.0"/>
<rect x="487.25" y="141.68" width="3.1" height="3.1" fill="none" stroke="#222" stroke-width="1.0"/>
<rect x="490.05" y="141.24" width="3.1" height="3.1" fill="none" stroke="#222" stroke-width="1.0"/>
<rect x="492.85" y="139.76" width="3.1" height="3.1" fill="none" stroke="#222" stroke-width="1.0"/>
<rect x="495.65" y="136.78" width="3.1" height="3.1" fill="none" stroke="#222" stroke-width="1.0"/>
<rect x="498.45" y="136.32" width="3.1" height="3.1" fill="none" stroke="#222" stroke-width="1.0"/>
<rect x="501.25" y="132.78" width="3.1" height="3.1" fill="none" stroke="#222" stroke-width="1.0"/>
</g>
</svg>
</body></html>
